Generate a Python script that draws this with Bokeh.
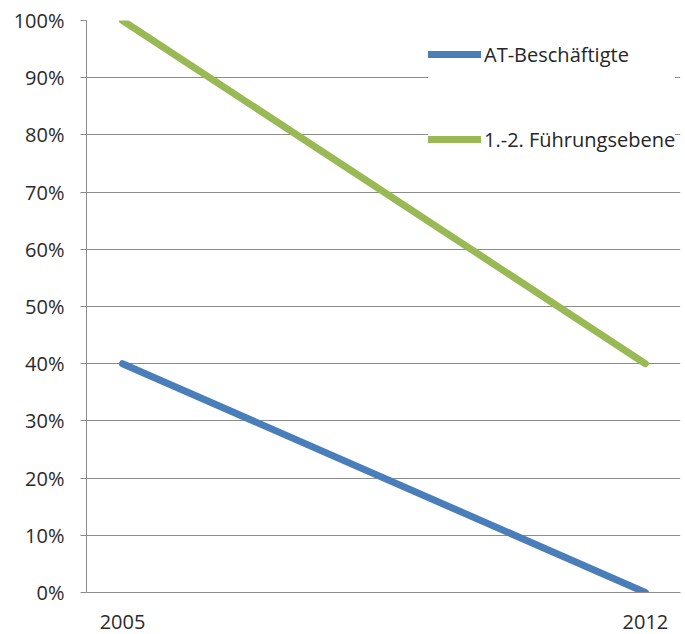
from bokeh.plotting import figure
from bokeh.models import Legend, LegendItem, FixedTicker, NumeralTickFormatter
from bokeh.embed import file_html
from bokeh.resources import INLINE

years = [2005, 2012]
year_labels = ["2005", "2012"]
at_beschaeftigte = [0.40, 0.00]
fuehrungsebene = [1.00, 0.40]
y_ticks = [0.0, 0.1, 0.2, 0.3, 0.4, 0.5, 0.6, 0.7, 0.8, 0.9, 1.0]

FONT = "Open Sans"
GRID = "#8c8c8c"
TEXT = "#2b2b2b"

p = figure(width=685, height=634, output_backend="svg", toolbar_location=None,
           x_range=(2004.518, 2012.47), y_range=(0, 1),
           min_border_left=86, min_border_right=5, min_border_top=20, min_border_bottom=42)
p.outline_line_color = None
p.background_fill_color = "white"
p.border_fill_color = "white"

r1 = p.line(years, at_beschaeftigte, line_color="#4a7ebb", line_width=7, line_cap="round")
r2 = p.line(years, fuehrungsebene, line_color="#98b954", line_width=7, line_cap="round")

p.xgrid.grid_line_color = None
p.ygrid.grid_line_color = GRID
p.ygrid.grid_line_width = 1
p.ygrid.ticker = FixedTicker(ticks=y_ticks)

p.yaxis.ticker = FixedTicker(ticks=y_ticks)
p.yaxis.formatter = NumeralTickFormatter(format="0%")
p.yaxis.axis_line_color = GRID
p.yaxis.major_tick_line_color = GRID
p.yaxis.major_tick_out = 6
p.yaxis.major_tick_in = 0
p.yaxis.minor_tick_line_color = None
p.yaxis.major_label_standoff = 16
p.yaxis.major_label_text_font = FONT
p.yaxis.major_label_text_font_size = "20px"
p.yaxis.major_label_text_color = TEXT

p.xaxis.ticker = FixedTicker(ticks=years)
p.xaxis.major_label_overrides = {y: l for y, l in zip(years, year_labels)}
p.xaxis.axis_line_color = GRID
p.xaxis.major_tick_line_color = None
p.xaxis.minor_tick_line_color = None
p.xaxis.major_tick_out = 0
p.xaxis.major_label_standoff = 22
p.xaxis.major_label_text_font = FONT
p.xaxis.major_label_text_font_size = "20px"
p.xaxis.major_label_text_color = TEXT

legend = Legend(items=[LegendItem(label="AT-Beschäftigte", renderers=[r1]),
                       LegendItem(label="1.-2. Führungsebene", renderers=[r2])],
                location=(342, 422), orientation="vertical",
                glyph_width=53, glyph_height=62, label_height=62, spacing=23,
                padding=4, margin=0, label_standoff=3,
                label_text_font=FONT, label_text_font_size="20px",
                label_text_color="#262626",
                border_line_color=None, background_fill_color="white",
                background_fill_alpha=1.0)
p.add_layout(legend, "center")

open("out.html", "w").write(file_html(p, INLINE))
